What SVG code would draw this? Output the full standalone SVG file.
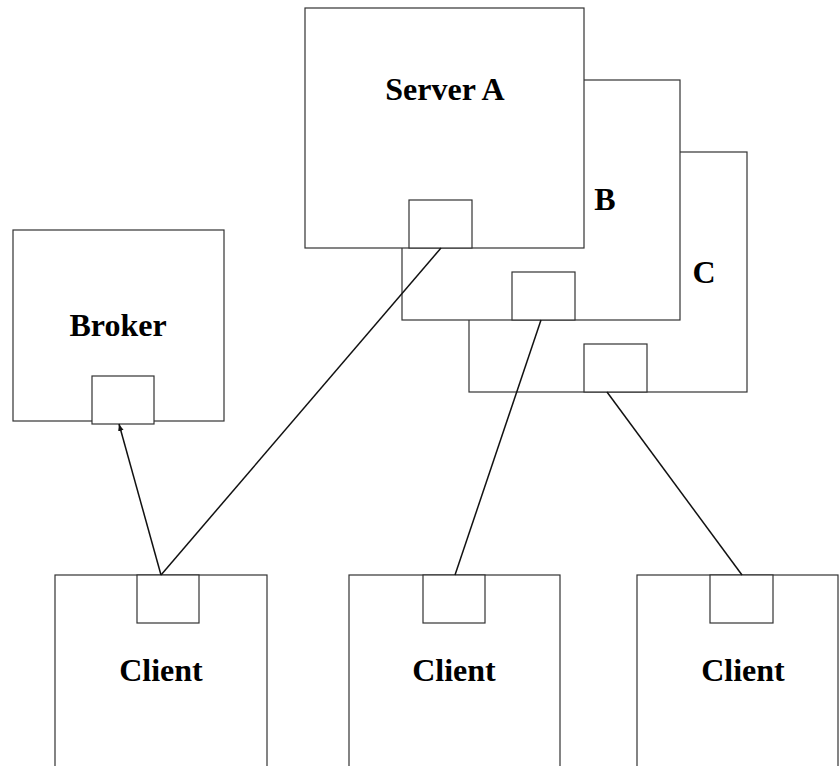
<svg xmlns="http://www.w3.org/2000/svg" width="840" height="766" viewBox="0 0 840 766">
  <defs>
    <style>
      .box { fill: #ffffff; stroke: #333333; stroke-width: 1.2; }
      .port { fill: #ffffff; stroke: #333333; stroke-width: 1.2; }
      .label { font-family: "Liberation Serif", "Times New Roman", serif; font-weight: bold; font-size: 32px; fill: #000000; }
      .link { fill: none; stroke: #111111; stroke-width: 1.5; }
    </style>
    <marker id="arrowhead" viewBox="0 0 10 10" refX="10" refY="5" markerWidth="7" markerHeight="7" orient="auto" markerUnits="userSpaceOnUse">
      <path d="M0,1 L10,5 L0,9 Z" fill="#111111"/>
    </marker>
  </defs>
  <rect width="840" height="766" fill="#ffffff"/>

  <!-- server replicas, back to front -->
  <g id="server-c">
    <rect class="box" x="469" y="152" width="278" height="240"/>
    <rect class="port" x="584" y="344" width="63" height="48"/>
    <text class="label" x="704" y="283" text-anchor="middle">C</text>
  </g>
  <g id="server-b">
    <rect class="box" x="402" y="80" width="278" height="240"/>
    <rect class="port" x="512" y="272" width="63" height="48"/>
    <text class="label" x="605" y="210" text-anchor="middle">B</text>
  </g>
  <g id="server-a">
    <rect class="box" x="305" y="8" width="279" height="240"/>
    <rect class="port" x="409" y="200" width="63" height="48"/>
    <text class="label" x="445" y="100" text-anchor="middle">Server A</text>
  </g>

  <g id="broker">
    <rect class="box" x="13" y="230" width="211" height="191"/>
    <rect class="port" x="92" y="376" width="62" height="48"/>
    <text class="label" x="118" y="336" text-anchor="middle">Broker</text>
  </g>

  <!-- clients run off the bottom edge -->
  <g id="client-1">
    <rect class="box" x="55" y="575" width="212" height="220"/>
    <rect class="port" x="137" y="575" width="62" height="48"/>
    <text class="label" x="161" y="681" text-anchor="middle">Client</text>
  </g>
  <g id="client-2">
    <rect class="box" x="349" y="575" width="211" height="220"/>
    <rect class="port" x="423" y="575" width="62" height="48"/>
    <text class="label" x="454" y="681" text-anchor="middle">Client</text>
  </g>
  <g id="client-3">
    <rect class="box" x="637" y="575" width="201" height="220"/>
    <rect class="port" x="710" y="575" width="63" height="48"/>
    <text class="label" x="743" y="681" text-anchor="middle">Client</text>
  </g>

  <g id="connectors">
    <line class="link" x1="161" y1="575" x2="119" y2="424" marker-end="url(#arrowhead)"/>
    <line class="link" x1="161" y1="575" x2="441" y2="248"/>
    <line class="link" x1="455" y1="575" x2="541" y2="320"/>
    <line class="link" x1="742" y1="575" x2="607" y2="392"/>
  </g>
</svg>
